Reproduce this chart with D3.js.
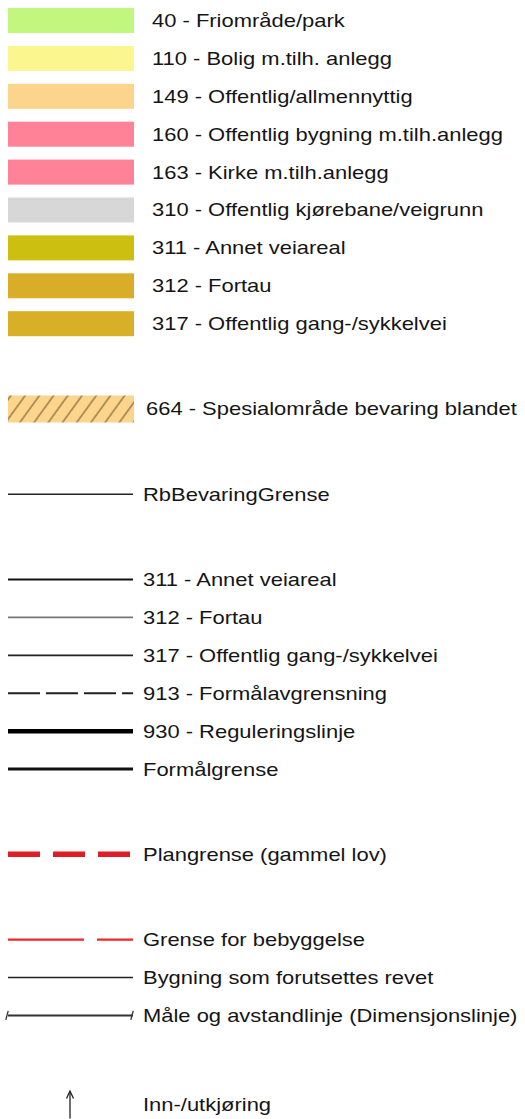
<!DOCTYPE html>
<html>
<head>
<meta charset="utf-8">
<script src="https://cdn.jsdelivr.net/npm/d3@7"></script>
<style>
  html, body { margin: 0; padding: 0; background: #fff; }
  text { font-family: "Liberation Sans", Arial, sans-serif; fill: #151515; }
</style>
</head>
<body>
<div id="legend"></div>
<script>
const width = 525;
const height = 1119;

// area (fill) entries
const fillLabels = [
  "40 - Friområde/park",
  "110 - Bolig m.tilh. anlegg",
  "149 - Offentlig/allmennyttig",
  "160 - Offentlig bygning m.tilh.anlegg",
  "163 - Kirke m.tilh.anlegg",
  "310 - Offentlig kjørebane/veigrunn",
  "311 - Annet veiareal",
  "312 - Fortau",
  "317 - Offentlig gang-/sykkelvei"
];
const fillColors = ["#c2f77f", "#fbf68d", "#fcd58c", "#ff8297", "#ff8297", "#d7d7d7", "#cdbf10", "#d9ad27", "#d8b027"];

const hatchLabel = "664 - Spesialområde bevaring blandet";

// line entries
const lineLabels = [
  "RbBevaringGrense",
  "311 - Annet veiareal",
  "312 - Fortau",
  "317 - Offentlig gang-/sykkelvei",
  "913 - Formålavgrensning",
  "930 - Reguleringslinje",
  "Formålgrense",
  "Plangrense (gammel lov)",
  "Grense for bebyggelse",
  "Bygning som forutsettes revet",
  "Måle og avstandlinje (Dimensjonslinje)"
];
const lineColors = ["#222", "#111", "#777", "#222", "#222", "#000", "#111", "#e01c24", "#f0262b", "#222", "#333"];
const lineWidths = [1.5, 2, 1.6, 1.6, 2, 4.5, 3, 5.5, 2.2, 1.5, 2];
const lineDashes = [null, null, null, null, "32,6", null, null, "32,13", "76,13", null, null];
// rows that start a new group get an extra gap before them
const lineGapBefore = [true, true, false, false, false, false, false, true, true, false, false];

const arrowLabel = "Inn-/utkjøring";

// build row slots
const rows = [];
let slot = 0;
fillLabels.forEach((label, i) => {
  rows.push({ type: "fill", label, color: fillColors[i], slot });
  slot += 1;
});
slot += 1.25;
rows.push({ type: "hatch", label: hatchLabel, slot });
lineLabels.forEach((label, i) => {
  if (lineGapBefore[i]) slot += 2.25; else slot += 1;
  rows.push({
    type: label.startsWith("Måle") ? "dim" : "line",
    label, color: lineColors[i], w: lineWidths[i], dash: lineDashes[i], slot
  });
});
slot += 2.35;
rows.push({ type: "arrow", label: arrowLabel, slot });

const yScale = d3.scaleLinear().domain([0, 1]).range([20.5, 58.4]);
const xSymbol = d3.scaleLinear().domain([0, 1]).range([8, 134]);
const textX = { fill: 152, hatch: 146, line: 143, dim: 143, arrow: 143 };
const stretch = 1.22;

const svg = d3.select("#legend")
  .append("svg")
    .attr("width", width)
    .attr("height", height)
    .attr("viewBox", [0, 0, width, height]);

const defs = svg.append("defs");
const pattern = defs.append("pattern")
    .attr("id", "hatch")
    .attr("patternUnits", "userSpaceOnUse")
    .attr("width", 11.5)
    .attr("height", 10)
    .attr("patternTransform", "rotate(36)");
pattern.append("rect")
    .attr("width", 11.5)
    .attr("height", 10)
    .attr("fill", "#fcd58c");
pattern.append("line")
    .attr("x1", 1).attr("y1", 0)
    .attr("x2", 1).attr("y2", 10)
    .attr("stroke", "#8c6c3e")
    .attr("stroke-width", 1.3);

const symH = 25;

const g = svg.selectAll("g.row")
  .data(rows)
  .join("g")
    .attr("class", "row")
    .attr("transform", d => `translate(0, ${yScale(d.slot)})`);

// fill swatches
g.filter(d => d.type === "fill")
  .append("rect")
    .attr("x", xSymbol(0))
    .attr("y", -symH / 2)
    .attr("width", xSymbol(1) - xSymbol(0))
    .attr("height", symH)
    .attr("fill", d => d.color);

// hatched swatch
g.filter(d => d.type === "hatch")
  .append("rect")
    .attr("x", xSymbol(0))
    .attr("y", -13.5)
    .attr("width", xSymbol(1) - xSymbol(0))
    .attr("height", 27)
    .attr("fill", "url(#hatch)");

// line symbols
g.filter(d => d.type === "line" || d.type === "dim")
  .append("line")
    .attr("x1", xSymbol(0))
    .attr("x2", xSymbol(1) - 1)
    .attr("y1", 0)
    .attr("y2", 0)
    .attr("stroke", d => d.color)
    .attr("stroke-width", d => d.w)
    .attr("stroke-dasharray", d => d.dash);

// end ticks of the dimension line
g.filter(d => d.type === "dim")
  .selectAll("line.tick")
  .data([0, 1])
  .join("line")
    .attr("class", "tick")
    .attr("x1", t => xSymbol(t) - (t ? 2 : 1) - 1.2)
    .attr("x2", t => xSymbol(t) - (t ? 2 : 1) + 1.2)
    .attr("y1", 4.5)
    .attr("y2", -4.5)
    .attr("stroke", "#333")
    .attr("stroke-width", 1.3);

// arrow symbol
const arrowG = g.filter(d => d.type === "arrow");
arrowG.append("line")
    .attr("x1", 70).attr("x2", 70)
    .attr("y1", 14).attr("y2", -12)
    .attr("stroke", "#222")
    .attr("stroke-width", 1.3);
arrowG.append("path")
    .attr("d", d3.line()([[66.5, -6], [70, -13.5], [73.5, -6]]))
    .attr("fill", "none")
    .attr("stroke", "#222")
    .attr("stroke-width", 1.3);

// labels
g.append("text")
    .attr("transform", d => `translate(${textX[d.type]}, 0) scale(${stretch}, 1)`)
    .attr("dy", "0.36em")
    .style("font-size", "18px")
    .text(d => d.label);
</script>
</body>
</html>
